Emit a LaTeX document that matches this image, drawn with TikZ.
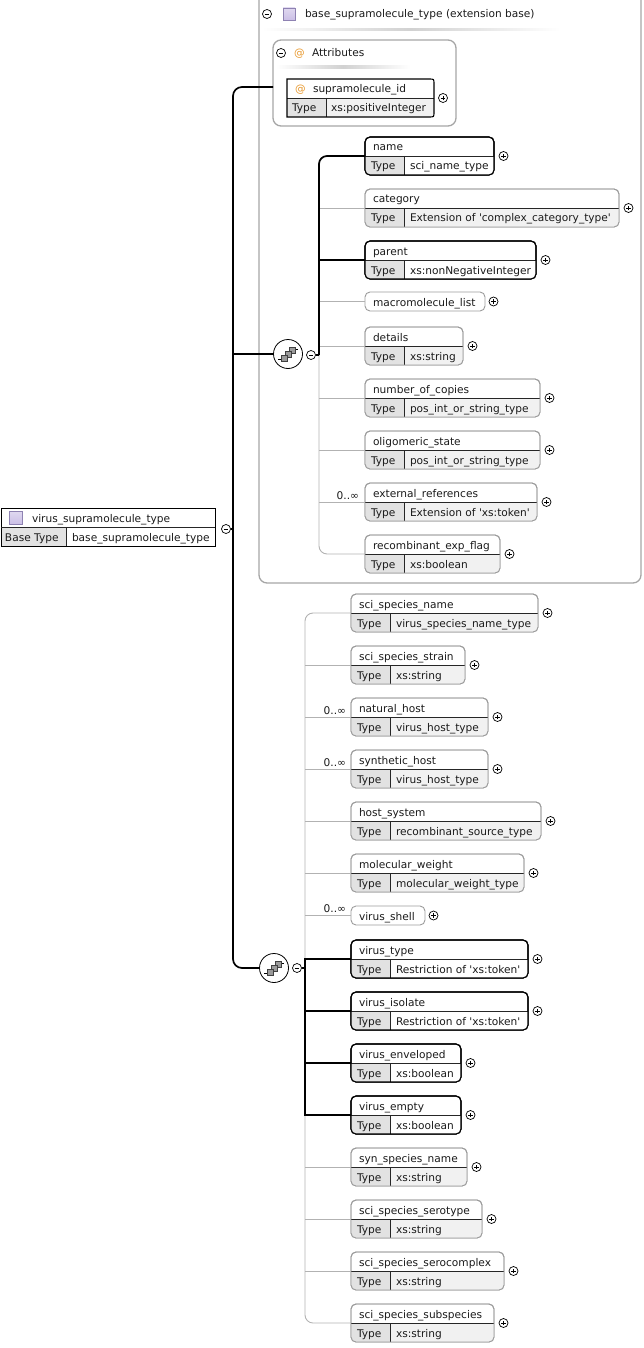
\documentclass[tikz,border=0pt]{standalone}
\usepackage{fontspec}
\setmainfont[Ligatures=TeXOff]{DejaVu Sans}
\usetikzlibrary{calc}

\definecolor{txt}{HTML}{1A1A1A}
\definecolor{optline}{HTML}{9C9C9C}
\definecolor{conn}{HTML}{B2B2B2}
\definecolor{typecell}{HTML}{E2E2E2}
\definecolor{valcell}{HTML}{F1F1F1}
\definecolor{atsign}{HTML}{E8992F}
\definecolor{ticonfill}{HTML}{CBBFE6}
\definecolor{ticonline}{HTML}{8E82B2}
\definecolor{frameline}{HTML}{A6A6A6}
\definecolor{glyphfill}{HTML}{9A9A9A}

\tikzset{
  every node/.style={inner sep=0pt, outer sep=0pt},
  lbl/.style={anchor=base west, text=txt},
  occ/.style={anchor=base east, text=txt},
  btn/.style={circle, draw=black, line width=0.7pt, fill=white, minimum size=9pt},
  plusbtn/.style={btn, path picture={
      \draw[line width=0.7pt] ([xshift=-2.3pt]path picture bounding box.center) -- ([xshift=2.3pt]path picture bounding box.center);
      \draw[line width=0.7pt] ([yshift=-2.3pt]path picture bounding box.center) -- ([yshift=2.3pt]path picture bounding box.center);}},
  minusbtn/.style={btn, path picture={
      \draw[line width=0.7pt] ([xshift=-2.3pt]path picture bounding box.center) -- ([xshift=2.3pt]path picture bounding box.center);}},
  seqicon/.style={circle, draw=black, line width=0.8pt, fill=white, minimum size=29pt},
  reqbox/.style={draw=black, line width=1.1pt, fill=white, rounded corners=5pt},
  optbox/.style={draw=optline, line width=0.9pt, fill=white, rounded corners=5pt},
  reqval/.style={fill=white},
  optval/.style={fill=valcell},
  reqedge/.style={draw=black, line width=1.1pt, rounded corners=5pt},
  optedge/.style={draw=optline, line width=0.9pt, rounded corners=5pt},
  sepline/.style={draw=black!85, line width=0.8pt},
  thinconn/.style={draw=conn, line width=0.9pt},
  thickconn/.style={draw=black, line width=1.7pt},
  frame/.style={draw=frameline, line width=1.3pt, rounded corners=8pt},
  typeicon/.style={draw=ticonline, line width=0.5pt, top color=ticonfill!60, bottom color=ticonfill},
  fade/.style={left color=white, right color=white, middle color=black!18}
}

% element with a name row and a type row
% #1 id, #2 left x, #3 top y, #4 width, #5 req/opt, #6 name, #7 type
\newcommand\elembox[7]{%
  \node[#5box, minimum width=#4pt, minimum height=38pt, anchor=north west] (#1) at (#2,#3) {};
  \begin{scope}
    \clip[rounded corners=5pt] (#1.north west) rectangle (#1.south east);
    \fill[#5val] (#1.west) rectangle (#1.south east);
    \fill[typecell] (#1.west) rectangle ($(#1.south west)+(39,0)$);
  \end{scope}
  \draw[sepline] (#1.west) -- (#1.east);
  \draw[sepline] ($(#1.west)+(39,0)$) -- ($(#1.south west)+(39,0)$);
  \draw[#5edge] (#1.north west) rectangle (#1.south east);
  \node[lbl] at ($(#1.north west)+(8,14)$) {#6};
  \node[lbl] at ($(#1.west)+(6,14)$) {Type};
  \node[lbl] at ($(#1.west)+(45,14)$) {#7};
  \node[plusbtn] (#1-x) at ($(#1.east)+(9.5,0)$) {};
}

% element with a name row only
\newcommand\elemone[6]{%
  \node[#5box, minimum width=#4pt, minimum height=19pt, anchor=north west] (#1) at (#2,#3) {};
  \node[lbl] at ($(#1.north west)+(8,14)$) {#6};
  \node[plusbtn] (#1-x) at ($(#1.east)+(8.5,0)$) {};
}

% sequence compositor glyph
\newcommand\seqglyph[1]{%
  \begin{scope}[shift={(#1.center)}]
    \draw[line width=0.7pt] (-10,5) -- (-6,5);
    \draw[line width=0.7pt] (6,-5) -- (10,-5);
    \foreach \dx/\dy in {4/-4, 0/0, -4/4}{
      \filldraw[fill=glyphfill, draw=black!75, line width=0.5pt] (\dx-3,\dy-3) rectangle (\dx+3,\dy+3);
    }
  \end{scope}}

\begin{document}
\begin{tikzpicture}[x=1pt, y=-1pt, font=\fontsize{10.6}{12}\selectfont]
\useasboundingbox (0,0) rectangle (644,1348);

% ---------- extension base frame ----------
\node[frame, minimum width=382pt, minimum height=592pt, anchor=south west] (ext) at (259,583) {};
\node[minusbtn] (ext-m) at (267,14) {};
\filldraw[typeicon] (283,8) rectangle (295,20);
\node[lbl] (ext-title) at (305,18) {base\_supramolecule\_type (extension base)};
\shade[fade] (262,28.5) rectangle (560,31);

% attributes group
\node[frame, minimum width=183pt, minimum height=86pt, anchor=north west] (attrs) at (273,40) {};
\node[minusbtn] (attrs-m) at (281,53) {};
\node[lbl, text=atsign] (attrs-at) at (294,57) {@};
\node[lbl] (attrs-title) at (312,57) {Attributes};
\shade[fade] (276,66) rectangle (410,68.5);
\coordinate (attrlink) at (273,87);

% supramolecule_id attribute
\fill[white] (287,79) rectangle (432,117);
\fill[typecell] (287,98) rectangle (326,117);
\fill[valcell] (326,98) -- (434,98) -- (434,112) .. controls (434,117) .. (429,117) -- (326,117) -- cycle;
\draw[sepline] (287,98) -- (434,98);
\draw[sepline] (326,98) -- (326,117);
\draw[draw=black, line width=1.1pt] (287,117) -- (287,79) -- (429,79) .. controls (434,79) .. (434,84)
  -- (434,112) .. controls (434,117) .. (429,117) -- cycle;
\node[lbl, text=atsign] (sid-at) at (295,93) {@};
\node[lbl] (sid) at (313,93) {supramolecule\_id};
\node[lbl] (sid-tl) at (292,112) {Type};
\node[lbl] (sid-t) at (331,112) {xs:positiveInteger};
\node[plusbtn] (sid-x) at (443,98) {};

% ---------- root type ----------
\node[draw=black, line width=0.9pt, fill=white, minimum width=214pt, minimum height=38pt, anchor=north west] (root) at (1,508) {};
\fill[typecell] (1.5,527) rectangle (66,545.5);
\draw[sepline] (root.west) -- (root.east);
\draw[sepline] (66,527) -- (66,546);
\filldraw[typeicon] (9,511) rectangle (22,524);
\node[lbl] (root-title) at (32,522) {virus\_supramolecule\_type};
\node[lbl] (root-bl) at (5,541) {Base Type};
\node[lbl] (root-b) at (72,541) {base\_supramolecule\_type};
\node[minusbtn] (root-m) at (226,529) {};

% ---------- first sequence ----------
\elembox{name}{365}{137}{129}{req}{name}{sci\_name\_type}
\elembox{category}{365}{189}{254}{opt}{category}{Extension of 'complex\_category\_type'}
\elembox{parent}{365}{241}{171}{req}{parent}{xs:nonNegativeInteger}
\elemone{macro}{365}{292}{120}{opt}{macromolecule\_list}
\elembox{details}{365}{327}{98}{opt}{details}{xs:string}
\elembox{copies}{365}{379}{175}{opt}{number\_of\_copies}{pos\_int\_or\_string\_type}
\elembox{oligo}{365}{431}{175}{opt}{oligomeric\_state}{pos\_int\_or\_string\_type}
\elembox{extref}{365}{483}{172}{opt}{external\_references}{Extension of 'xs:token'}
\elembox{recomb}{365}{535}{135}{opt}{recombinant\_exp\_flag}{xs:boolean}
\node[occ] (extref-occ) at ($(extref.west)+(-6,-3)$) {0..∞};

\node[seqicon] (seq1) at (288,354) {};
\seqglyph{seq1}
\node[minusbtn] (seq1-m) at (311,355) {};
\coordinate (s1top) at (319,156);
\coordinate (s1bot) at (319,554);

% ---------- second sequence ----------
\elembox{sciname}{351}{594}{187}{opt}{sci\_species\_name}{virus\_species\_name\_type}
\elembox{strain}{351}{646}{114}{opt}{sci\_species\_strain}{xs:string}
\elembox{nathost}{351}{698}{137}{opt}{natural\_host}{virus\_host\_type}
\elembox{synhost}{351}{750}{137}{opt}{synthetic\_host}{virus\_host\_type}
\elembox{hostsys}{351}{802}{190}{opt}{host\_system}{recombinant\_source\_type}
\elembox{molwt}{351}{854}{173}{opt}{molecular\_weight}{molecular\_weight\_type}
\elemone{shell}{351}{906}{74}{opt}{virus\_shell}
\elembox{vtype}{351}{940}{177}{req}{virus\_type}{Restriction of 'xs:token'}
\elembox{visolate}{351}{992}{177}{req}{virus\_isolate}{Restriction of 'xs:token'}
\elembox{venv}{351}{1044}{110}{req}{virus\_enveloped}{xs:boolean}
\elembox{vempty}{351}{1096}{110}{req}{virus\_empty}{xs:boolean}
\elembox{synname}{351}{1148}{116}{opt}{syn\_species\_name}{xs:string}
\elembox{serotype}{351}{1200}{131}{opt}{sci\_species\_serotype}{xs:string}
\elembox{serocx}{351}{1252}{153}{opt}{sci\_species\_serocomplex}{xs:string}
\elembox{subsp}{351}{1304}{143}{opt}{sci\_species\_subspecies}{xs:string}
\node[occ] (nathost-occ) at ($(nathost.west)+(-5,-3)$) {0..∞};
\node[occ] (synhost-occ) at ($(synhost.west)+(-5,-3)$) {0..∞};
\node[occ] (shell-occ) at ($(shell.west)+(-5,-3)$) {0..∞};

\node[seqicon] (seq2) at (274,968) {};
\seqglyph{seq2}
\node[minusbtn] (seq2-m) at (297,968) {};
\coordinate (s2top) at (305,613);
\coordinate (s2bot) at (305,1323);

% ---------- connectors: first sequence ----------
\draw[thinconn, rounded corners=8pt] (name.west) -- (s1top) -- (s1bot) -- (recomb.west);
\foreach \n in {category, macro, details, copies, oligo, extref}{
  \draw[thinconn] (\n.west -| s1top) -- (\n.west);
}
\draw[thickconn, rounded corners=8pt] (name.west) -- (s1top) -- (s1top |- seq1-m);
\draw[thickconn] (seq1-m.east) -- (seq1-m -| s1top);
\draw[thickconn] (parent.west -| s1top) -- (parent.west);

% ---------- connectors: second sequence ----------
\draw[thinconn, rounded corners=8pt] (sciname.west) -- (s2top) -- (s2bot) -- (subsp.west);
\foreach \n in {strain, nathost, synhost, hostsys, molwt, shell, synname, serotype, serocx}{
  \draw[thinconn] (\n.west -| s2top) -- (\n.west);
}
\draw[thickconn] (vtype.west) -- (vtype.west -| s2top) -- (vempty.west -| s2top) -- (vempty.west);
\draw[thickconn] (visolate.west -| s2top) -- (visolate.west);
\draw[thickconn] (venv.west -| s2top) -- (venv.west);
\draw[thickconn] (seq2-m.east) -- (seq2-m -| s2top);

% ---------- main trunk ----------
\coordinate (trunktop) at (233,87);
\coordinate (trunkbot) at (233,968);
\draw[thickconn, rounded corners=9pt] (attrlink) -- (trunktop) -- (trunkbot) -- (seq2.west);
\draw[thickconn] (root-m.east) -- (root-m -| trunktop);
\draw[thickconn] (seq1.west -| trunktop) -- (seq1.west);
\end{tikzpicture}
\end{document}
